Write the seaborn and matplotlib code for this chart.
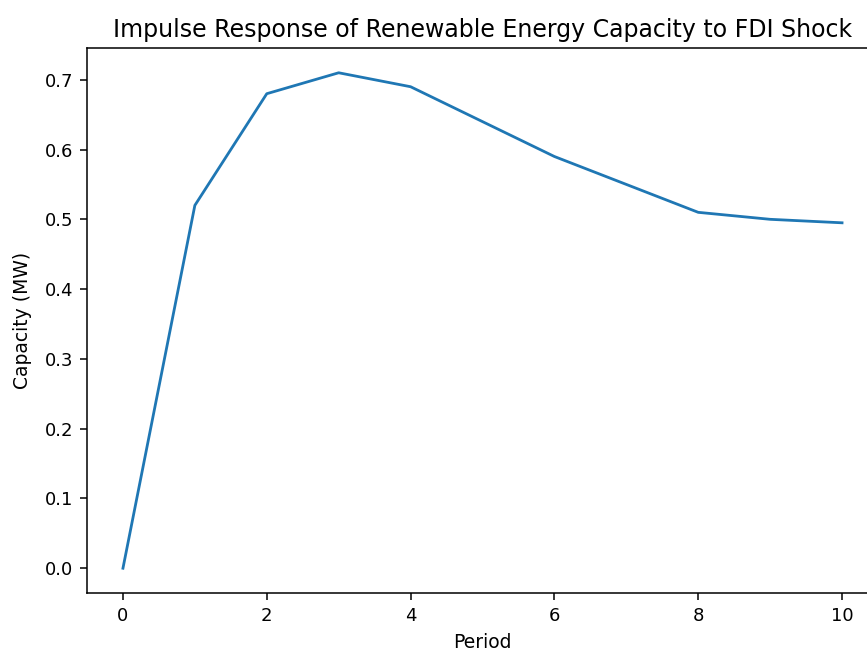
import pandas as pd
import seaborn as sns
import matplotlib.pyplot as plt

periods = [0, 1, 2, 3, 4, 5, 6, 7, 8, 9, 10]
capacity = [0.0, 0.52, 0.68, 0.71, 0.69, 0.64, 0.59, 0.55, 0.51, 0.50, 0.495]

df = pd.DataFrame({"Period": periods, "Capacity (MW)": capacity})

fig = plt.figure(figsize=(8.67, 6.51), dpi=100)
# right edge of the axes runs past the figure, as in the cropped original
ax = fig.add_axes([87 / 867, 1 - 593 / 651, (878 - 87) / 867, (593 - 48) / 651])

sns.lineplot(x="Period", y="Capacity (MW)", data=df, ax=ax, color="#1f77b4", linewidth=2.0)

ax.set_title("Impulse Response of Renewable Energy Capacity to FDI Shock", fontsize=17, pad=8)
ax.set_xlabel("Period", fontsize=13.5, labelpad=6)
ax.set_ylabel("Capacity (MW)", fontsize=13.5, labelpad=9)
ax.tick_params(labelsize=13, length=5, width=1.1, pad=5)
for s in ax.spines.values():
    s.set_linewidth(1.1)

plt.savefig("out.png", dpi=100)
